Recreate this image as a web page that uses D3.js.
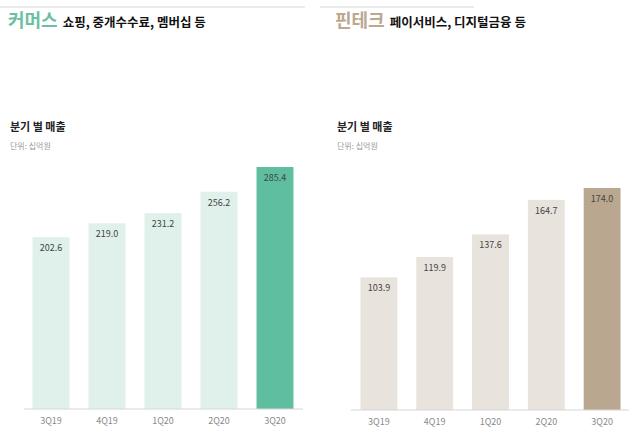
<!DOCTYPE html>
<html><head><meta charset="utf-8">
<script src="https://cdn.jsdelivr.net/npm/d3@7"></script>
<style>body{margin:0;background:#fff}svg{display:block}text{font-family:"Noto Sans CJK KR","Noto Sans",sans-serif}</style>
</head><body>
<svg id="c" width="640" height="442"></svg>
<script>
const categories = ["3Q19","4Q19","1Q20","2Q20","3Q20"];
const commerceValues = [202.6,219.0,231.2,256.2,285.4];
const fintechValues = [103.9,119.9,137.6,164.7,174.0];
const commerceTitle = "커머스", commerceSub = "쇼핑, 중개수수료, 멤버십 등";
const fintechTitle = "핀테크", fintechSub = "페이서비스, 디지털금융 등";
const subTitle = "분기 별 매출", unitText = "단위: 십억원";

const svg = d3.select("#c");

function panel(cfg){
  const g = svg.append("g");
  g.append("line").attr("x1",cfg.ruleX1).attr("x2",cfg.ruleX2).attr("y1",7).attr("y2",7)
    .attr("stroke","#e4e4e4").attr("stroke-width",1.5);
  const t = g.append("text").attr("x",cfg.titleX).attr("y",27);
  t.append("tspan").attr("font-size",18).attr("font-weight",700).attr("fill",cfg.titleColor).text(cfg.title);
  t.append("tspan").attr("dx",5).attr("font-size",12.5).attr("font-weight",700).attr("fill","#111").text(cfg.sub);
  g.append("text").attr("x",cfg.titleX+2).attr("y",131).attr("font-size",11).attr("font-weight",700).attr("fill","#222").text(subTitle);
  g.append("text").attr("x",cfg.titleX+2).attr("y",149).attr("font-size",8).attr("fill","#9a9a9a").text(unitText);

  const x = d3.scaleBand().domain(categories).range([cfg.x0,cfg.x1]).paddingInner(0.34).paddingOuter(0.17);
  const y = d3.scaleLinear().domain([0,cfg.maxV]).range([cfg.base,cfg.base-cfg.maxH]);
  const n = categories.length;
  g.selectAll("rect.b").data(cfg.values).join("rect")
    .attr("x",(d,i)=>x(categories[i])).attr("width",x.bandwidth())
    .attr("y",d=>y(d)).attr("height",d=>cfg.base-y(d))
    .attr("fill",(d,i)=>i===n-1?cfg.hi:cfg.lo);
  g.selectAll("text.v").data(cfg.values).join("text")
    .attr("x",(d,i)=>x(categories[i])+x.bandwidth()/2).attr("y",d=>y(d)+14)
    .attr("text-anchor","middle").attr("font-size",9).attr("fill","#444")
    .attr("font-family","'Noto Sans',sans-serif").text(d=>d.toFixed(1));
  const ax = g.append("g").attr("transform",`translate(0,${cfg.base})`)
    .call(d3.axisBottom(x).tickSize(0).tickPadding(9));
  ax.select(".domain").attr("stroke","#d6d6d6").attr("d",`M${cfg.ax0},0H${cfg.ax1}`);
  ax.selectAll("text").attr("font-size",9).attr("fill","#8a8a8a").attr("font-family","'Noto Sans',sans-serif");
}

panel({values:commerceValues,title:commerceTitle,sub:commerceSub,titleColor:"#6cc0a2",
  titleX:8,ruleX1:0,ruleX2:305,x0:23,x1:303,ax0:24,ax1:303,base:409,maxV:285.4,maxH:242,
  lo:"#dff1ea",hi:"#5fbe9f"});
panel({values:fintechValues,title:fintechTitle,sub:fintechSub,titleColor:"#baa890",
  titleX:335,ruleX1:320,ruleX2:474,x0:351,x1:630,ax0:351,ax1:629,base:410,maxV:174.0,maxH:222,
  lo:"#e8e3dc",hi:"#b9a78f"});
</script>
</body></html>
